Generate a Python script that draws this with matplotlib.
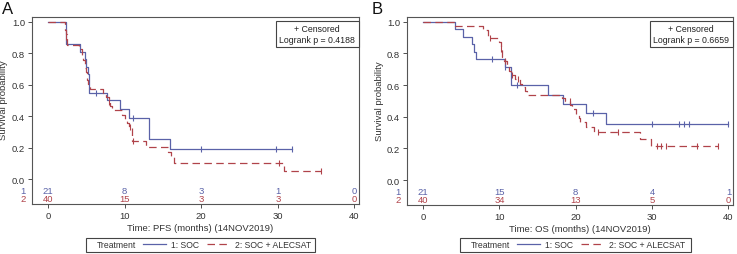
import matplotlib.pyplot as plt
from matplotlib.patches import Rectangle
from matplotlib.lines import Line2D

plt.rcParams['font.family'] = ['Liberation Sans', 'DejaVu Sans']

# ---- data ----
years_ticks = [0, 10, 20, 30, 40]

# Panel A: PFS
a_soc_t = [0, 2.4, 4.15, 4.8, 5.0, 5.15, 5.3, 5.4, 7.7, 9.4, 10.6, 13.2, 15.9, 31.9]
a_soc_s = [1.0, 0.857, 0.81, 0.762, 0.714, 0.667, 0.619, 0.55, 0.505, 0.447, 0.39, 0.257, 0.194, 0.194]
a_soc_cens_t = [6.2, 11.05, 20.0, 29.8, 31.9]
a_soc_cens_s = [0.55, 0.39, 0.194, 0.194, 0.194]

a_ale_t = [0, 2.15, 2.3, 2.45, 4.05, 4.4, 4.6, 4.8, 4.95, 5.1, 5.25, 5.45, 7.2, 7.6, 7.9,
           8.1, 8.3, 8.5, 9.7, 10.0, 10.3, 10.6, 10.9, 11.0, 12.75, 15.7, 16.1, 16.5, 30.8, 35.7]
a_ale_s = [1.0, 0.95, 0.925, 0.855, 0.83, 0.78, 0.755, 0.705, 0.68, 0.63, 0.605, 0.57, 0.545, 0.52, 0.49,
           0.465, 0.45, 0.437, 0.41, 0.385, 0.355, 0.33, 0.3, 0.24, 0.205, 0.175, 0.145, 0.105, 0.053, 0.053]
a_ale_cens_t = [2.4, 7.95, 10.7, 11.05, 30.2, 35.7]
a_ale_cens_s = [0.9, 0.49, 0.33, 0.24, 0.105, 0.053]

a_risk_soc = [21, 8, 3, 1, 0]
a_risk_ale = [40, 15, 3, 3, 0]

# Panel B: OS
b_soc_t = [0, 4.2, 5.3, 6.4, 6.7, 7.0, 10.7, 11.55, 16.4, 18.3, 21.3, 23.9, 40.0]
b_soc_s = [1.0, 0.952, 0.905, 0.857, 0.81, 0.762, 0.714, 0.603, 0.538, 0.481, 0.422, 0.352, 0.352]
b_soc_cens_t = [9.0, 10.8, 12.3, 22.3, 30.0, 33.5, 34.2, 34.9, 40.0]
b_soc_cens_s = [0.762, 0.714, 0.603, 0.422, 0.352, 0.352, 0.352, 0.352, 0.352]

b_ale_t = [0, 4.15, 7.9, 8.5, 10.0, 10.2, 10.4, 10.6, 11.0, 11.3, 11.5, 12.0, 12.7, 13.0, 13.3, 13.6,
           18.2, 18.6, 19.3, 19.5, 20.0, 20.4, 20.6, 21.3, 22.4, 28.4, 29.9, 38.6]
b_ale_s = [1.0, 0.975, 0.95, 0.9, 0.875, 0.825, 0.775, 0.75, 0.72, 0.69, 0.665, 0.64, 0.61, 0.585, 0.56, 0.535,
           0.52, 0.50, 0.475, 0.45, 0.42, 0.395, 0.37, 0.335, 0.305, 0.26, 0.215, 0.215]
b_ale_cens_t = [8.8, 10.15, 10.8, 11.65, 12.5, 19.2, 22.9, 25.5, 30.7, 31.2, 31.8, 35.9, 38.6]
b_ale_cens_s = [0.9, 0.825, 0.75, 0.665, 0.64, 0.50, 0.305, 0.305, 0.215, 0.215, 0.215, 0.215, 0.215]

b_risk_soc = [21, 15, 8, 4, 1]
b_risk_ale = [40, 34, 13, 5, 0]

blue = '#5a62a8'
red = '#b0434a'
grey = '#333333'
fs = 6.8

fig = plt.figure(figsize=(7.37, 2.55), dpi=100)
axA = fig.add_axes([32/737, 50/255, 327/737, 187/255])
axB = fig.add_axes([407/737, 49/255, 326/737, 188/255])


def panel(ax, soc, ale, risk_soc, risk_ale, xlabel, pval, xlab_x):
    ax.plot(soc[0], soc[1], drawstyle='steps-post', c=blue, lw=0.9)
    ax.plot(ale[0], ale[1], drawstyle='steps-post', c=red, lw=0.9, dashes=(6, 3.5))
    ax.plot(soc[2], soc[3], ls='none', marker='|', ms=4.5, mew=0.8, c=blue)
    ax.plot(ale[2], ale[3], ls='none', marker='|', ms=4.5, mew=0.8, c=red)
    ax.set_xlim(-2.1, 40.6)
    ax.set_ylim(-0.157, 1.03)
    ax.set_yticks([0, 0.2, 0.4, 0.6, 0.8, 1.0])
    ax.set_yticklabels(['0.0', '0.2', '0.4', '0.6', '0.8', '1.0'])
    ax.set_xticks(years_ticks)
    ax.tick_params(labelsize=fs, length=3, width=0.6, colors=grey, pad=2)
    for sp in ax.spines.values():
        sp.set_color('#555555')
        sp.set_linewidth(0.8)
    ax.set_ylabel('Survival probability', fontsize=fs, color=grey)
    ax.yaxis.set_label_coords(-0.072, 0.56)
    ax.set_xlabel(xlabel, fontsize=fs, color=grey)
    ax.xaxis.set_label_coords(xlab_x, -0.1)
    # numbers at risk
    for t, n1, n2 in zip(years_ticks, risk_soc, risk_ale):
        ax.text(t, -0.07, str(n1), color=blue, fontsize=fs, ha='center', va='center')
        ax.text(t, -0.123, str(n2), color=red, fontsize=fs, ha='center', va='center')
    tr = ax.get_yaxis_transform()
    ax.text(-0.028, -0.07, '1', color=blue, fontsize=fs, ha='center', va='center',
            transform=tr, clip_on=False)
    ax.text(-0.028, -0.123, '2', color=red, fontsize=fs, ha='center', va='center',
            transform=tr, clip_on=False)
    ax.text(0.872, 0.909, '+ Censored\nLogrank p = ' + pval, transform=ax.transAxes,
            ha='center', va='center', multialignment='center', fontsize=6.3, color='#222222',
            linespacing=1.25,
            bbox=dict(boxstyle='square,pad=0.4', fc='white', ec='#444444', lw=0.8))


panel(axA, (a_soc_t, a_soc_s, a_soc_cens_t, a_soc_cens_s),
      (a_ale_t, a_ale_s, a_ale_cens_t, a_ale_cens_s),
      a_risk_soc, a_risk_ale, 'Time: PFS (months) (14NOV2019)', '0.4188', 0.515)
panel(axB, (b_soc_t, b_soc_s, b_soc_cens_t, b_soc_cens_s),
      (b_ale_t, b_ale_s, b_ale_cens_t, b_ale_cens_s),
      b_risk_soc, b_risk_ale, 'Time: OS (months) (14NOV2019)', '0.6659', 0.53)

fig.text(2/737, 1 - 10/255, 'A', fontsize=12, va='center', ha='left', color='#111111')
fig.text(372/737, 1 - 10/255, 'B', fontsize=12, va='center', ha='left', color='#111111')

# treatment legends below each panel
handles = [Line2D([], [], c=blue, lw=0.9), Line2D([], [], c=red, lw=0.9, dashes=(6, 3.5))]
labels = ['1: SOC', '2: SOC + ALECSAT']
for x0, x1 in [(86, 315), (460, 691)]:
    fig.add_artist(Rectangle((x0/737, 2.3/255), (x1 - x0)/737, 13.7/255,
                             transform=fig.transFigure, fill=False, ec='#444444', lw=0.8))
    fig.text((x0 + 10.5)/737, 9/255, 'Treatment', fontsize=6.2, color=grey, va='center', ha='left')
    fig.legend(handles, labels, loc='center left', bbox_to_anchor=((x0 + 57)/737, 9/255),
               ncol=2, frameon=False, fontsize=6.2, handlelength=2.7, handletextpad=0.55,
               columnspacing=0.9, borderpad=0, borderaxespad=0, labelcolor=grey)

fig.savefig('out.png', dpi=100)
